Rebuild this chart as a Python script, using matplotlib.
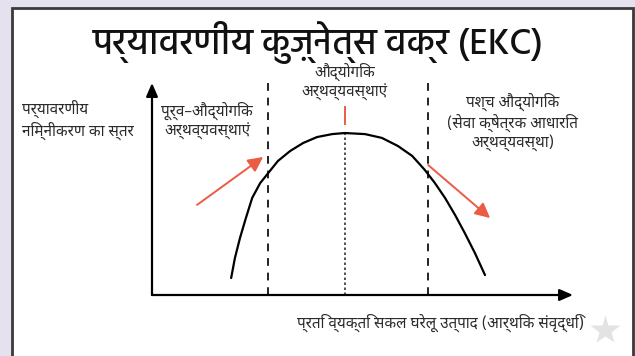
import matplotlib
matplotlib.use("Agg")
import matplotlib.pyplot as plt
from matplotlib.patches import Rectangle

# conceptual EKC curve (x: income, y: degradation, 0-100)
curve_x = [18.8, 19.7, 20.9, 22.3, 23.8, 25.7, 27.6, 29.9, 32.8, 35.9, 39.2, 42.8, 45.8,
           50.6, 54.6, 58.4, 61.8, 64.8, 67.2, 69.6, 72.0, 74.3, 76.7, 79.1]
curve_y = [8.0, 17.5, 26.9, 36.3, 45.8, 52.8, 57.5, 63.2, 67.9, 71.7, 74.5, 75.9, 76.4,
           75.9, 74.1, 70.3, 65.6, 59.0, 52.8, 45.8, 37.7, 29.2, 19.8, 9.4]

stage_edges = [27.6, 65.6]   # pre-industrial | industrial | post-industrial
peak_x = 45.9
peak_y = 76.4

title = "पर्यावरणीय कुज़्नेत्स वक्र (EKC)"
ylabel = "पर्यावरणीय\nनिम्नीकरण का स्तर"
xlabel = "प्रति व्यक्ति सकल घरेलू उत्पाद (आर्थिक संवृद्धि)"
stage_labels = ["पूर्व–औद्योगिक\nअर्थव्यवस्थाएं",
                "औद्योगिक\nअर्थव्यवस्थाएं",
                "पश्च औद्योगिक\n(सेवा क्षेत्रक आधारित\nअर्थव्यवस्था)"]

W, H = 635, 356
body_font = ["Noto Sans Devanagari", "Noto Sans", "DejaVu Sans"]
title_font = ["Hind", "Noto Sans Devanagari", "DejaVu Sans"]
red = "#ec5b43"
ink = "#2a2a2a"

fig = plt.figure(figsize=(W / 100, H / 100), dpi=100)
fig.patch.set_facecolor("#e6e1ee")

# white card with dark frame (pixel coordinates)
bg = fig.add_axes([0, 0, 1, 1])
bg.set_xlim(0, W)
bg.set_ylim(H, 0)
bg.axis("off")
bg.add_patch(Rectangle((12, 8), 621, 360, facecolor="white", edgecolor="#3a3a3a", lw=2))
bg.text(318, 54, title, family=title_font, fontsize=26, fontweight="medium",
        ha="center", va="baseline", color="#111111")
bg.text(22, 120, ylabel, family=body_font, fontsize=11, fontweight="medium", ha="left",
        va="center", color=ink, linespacing=1.25)
bg.plot(605, 330, marker="*", markersize=22, color="#e3e3e3", markeredgecolor="none")

# chart area: origin at (152, 295) px, axis arrows to (573, 83)
ax = fig.add_axes([152 / W, (H - 295) / H, (573 - 152) / W, (295 - 83) / H])
ax.set_xlim(0, 100)
ax.set_ylim(0, 100)
ax.axis("off")
ax.patch.set_alpha(0)

arrow = dict(arrowstyle="-|>,head_length=0.8,head_width=0.35", color="black", lw=1.6,
             shrinkA=0, shrinkB=0)
ax.annotate("", xy=(0, 100), xytext=(0, 0), arrowprops=arrow, annotation_clip=False)
ax.annotate("", xy=(100, 0), xytext=(0, 0), arrowprops=arrow, annotation_clip=False)

for xe in stage_edges:
    ax.plot([xe, xe], [0, 102.4], color="#222222", lw=1.4, ls=(0, (4, 3.5)), clip_on=False)
ax.plot([peak_x, peak_x], [0, peak_y], color="#333333", lw=1.2, ls=(0, (1.5, 1.5)))
ax.plot([peak_x, peak_x], [80.5, 88.5], color=red, lw=1.4)

ax.plot(curve_x, curve_y, color="black", lw=1.6, solid_capstyle="round", solid_joinstyle="round")

red_arrow = dict(arrowstyle="-|>,head_length=0.9,head_width=0.45", color=red, lw=1.4,
                 shrinkA=0, shrinkB=0)
ax.annotate("", xy=(26.4, 65.1), xytext=(10.7, 42.5), arrowprops=red_arrow)
ax.annotate("", xy=(80.3, 36.3), xytext=(65.6, 61.3), arrowprops=red_arrow)

ax.text(13.1, 82.1, stage_labels[0], family=body_font, fontsize=11, fontweight="medium",
        ha="center", va="center", color=ink, linespacing=1.25, clip_on=False)
ax.text(45.8, 100.5, stage_labels[1], family=body_font, fontsize=11, fontweight="medium",
        ha="center", va="center", color=ink, linespacing=1.25, clip_on=False)
ax.text(85.7, 81.6, stage_labels[2], family=body_font, fontsize=11, fontweight="medium",
        ha="center", va="center", color=ink, linespacing=1.2, clip_on=False)
ax.text(68.6, -13.2, xlabel, family=body_font, fontsize=11, fontweight="medium",
        ha="center", va="center", color=ink, clip_on=False)

fig.savefig("out.png", dpi=100, facecolor=fig.get_facecolor())
